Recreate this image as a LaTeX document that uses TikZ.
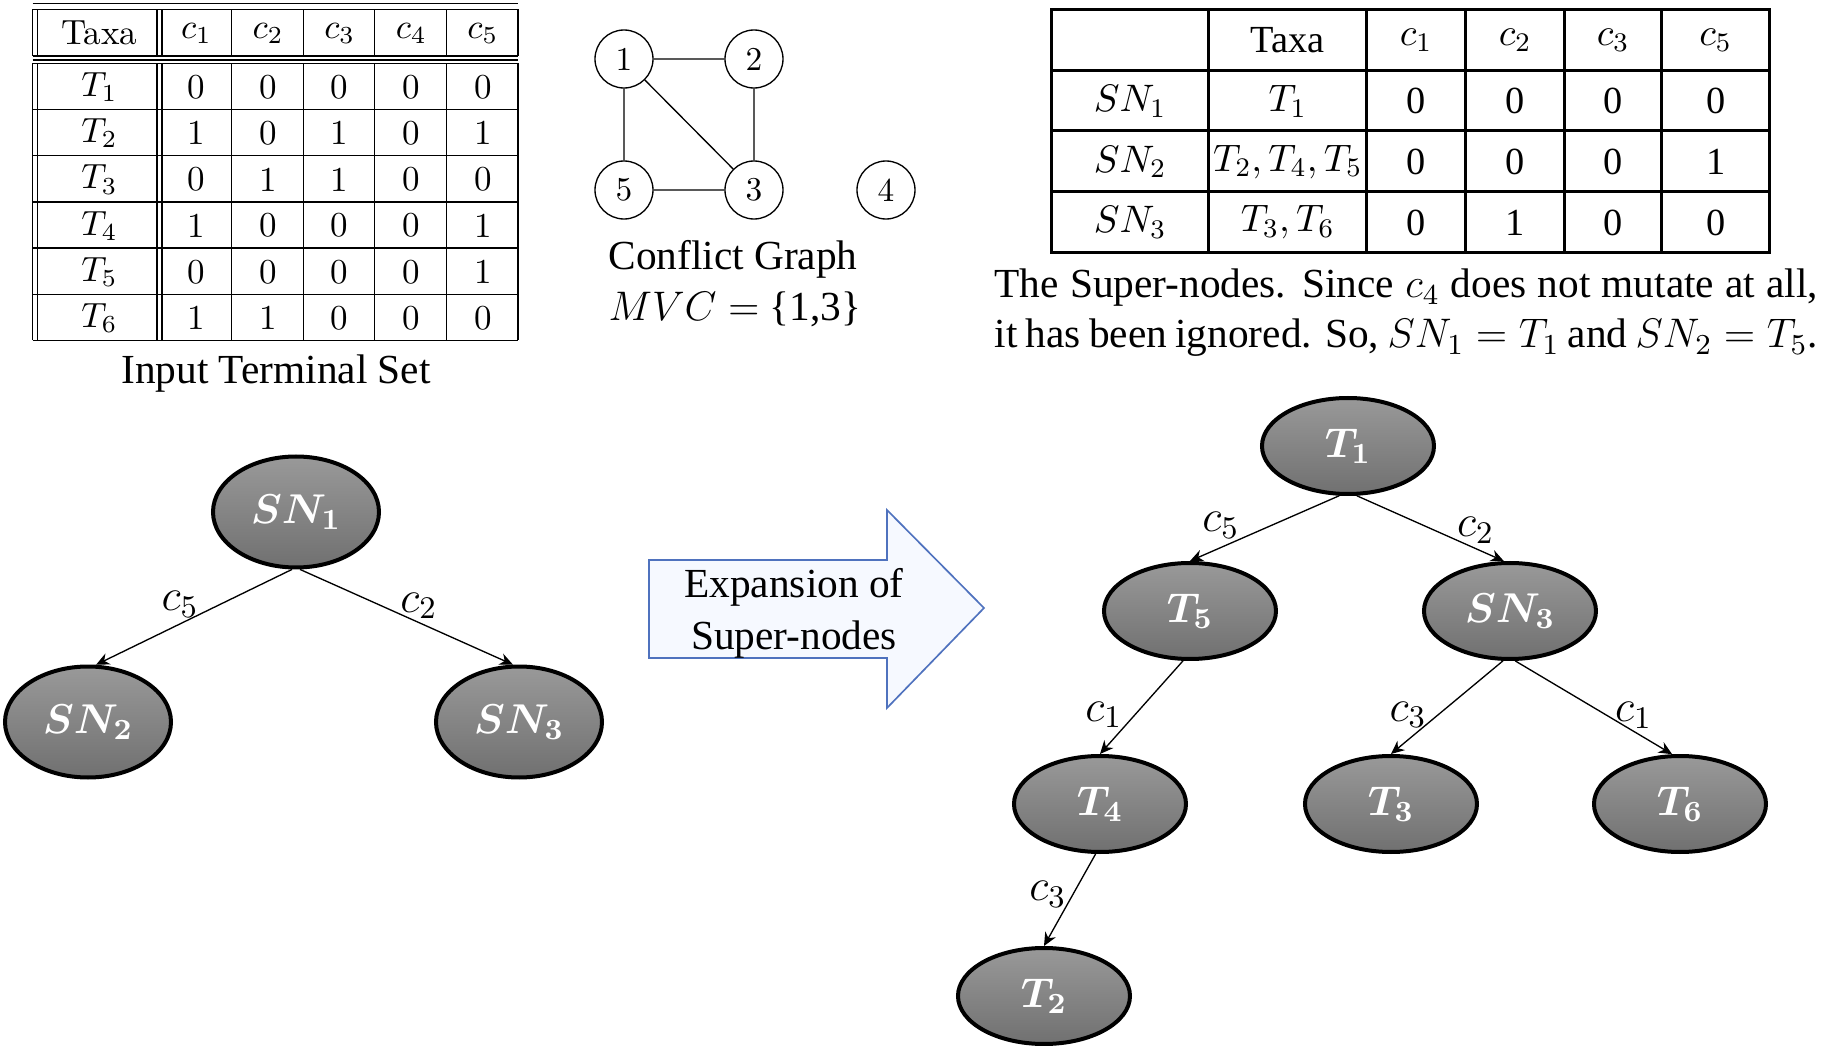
\RequirePackage{fix-cm}
\documentclass[tikz,border=0pt]{standalone}
\usepackage{fontspec}
\newfontfamily\tnr{Liberation Serif}
\usetikzlibrary{matrix,shapes.geometric,arrows.meta}

\definecolor{arrowblue}{RGB}{79,114,190}
\definecolor{arrowfill}{RGB}{246,249,255}

\begin{document}
\begin{tikzpicture}[x=0.3pt,y=-0.3pt,
    snode/.style={ellipse,draw=black,line width=1.2pt,top color=black!40,bottom color=black!56,
      text=white,inner sep=0pt,minimum width=49.8pt,minimum height=33.3pt,
      font=\fontsize{12.5}{14}\selectfont\boldmath},
    tnode/.style={snode,minimum width=51.6pt,minimum height=28.8pt},
    vnode/.style={circle,draw,thin,inner sep=0pt,minimum size=17.4pt,font=\fontsize{10}{12}\selectfont},
    tedge/.style={-{Stealth[length=4pt,width=3.6pt]},thin},
    elbl/.style={inner sep=0pt,font=\fontsize{13.5}{15}\selectfont},
    captext/.style={font=\tnr\fontsize{12.4}{15.6}\selectfont}]
  \useasboundingbox (0,0) rectangle (1847,1046);

    % input terminal set
    \foreach \y in {3.3,9.3,56,60,63.3,109.5,155.7,201.9,248.1,294.3,340.5}
      \draw[thin] (32.6,\y) -- (518,\y);
    \foreach \x in {32.7,37.5,157,162,231.6,303.2,374.8,446.4,518} {
      \draw[thin] (\x,9.3) -- (\x,56);
      \draw[thin] (\x,63.3) -- (\x,340.5);
    }
    \matrix (tset) [matrix of nodes,anchor=north west,inner sep=0pt,
        nodes={anchor=center,inner sep=0pt,text width=21.48pt,align=center,
          minimum height=13.86pt,font=\fontsize{10.5}{12}\selectfont},
        column 1/.style={nodes={text width=36.75pt}},
        row 1/.style={nodes={minimum height=14pt}}]
      at (37.5,9.3) {
        Taxa & $c_1$ & $c_2$ & $c_3$ & $c_4$ & $c_5$ \\[2.2pt]
        $T_1$ & 0 & 0 & 0 & 0 & 0 \\
        $T_2$ & 1 & 0 & 1 & 0 & 1 \\
        $T_3$ & 0 & 1 & 1 & 0 & 0 \\
        $T_4$ & 1 & 0 & 0 & 0 & 1 \\
        $T_5$ & 0 & 0 & 0 & 0 & 1 \\
        $T_6$ & 1 & 1 & 0 & 0 & 0 \\
      };
    \node[captext] (tsetcap) at (276,374) {Input Terminal Set};

    % conflict graph
    \node[vnode] (v1) at (624,59) {1};
    \node[vnode] (v2) at (754,59) {2};
    \node[vnode] (v5) at (624,190) {5};
    \node[vnode] (v3) at (754,190) {3};
    \node[vnode] (v4) at (886,190) {4};
    \draw[thin] (v1) -- (v2) (v1) -- (v5) (v1) -- (v3) (v2) -- (v3) (v5) -- (v3);
    \node[captext] (cgcap) at (733,259) {Conflict Graph};
    \node[captext] (mvc) at (735,309) {$MVC =$ \{1,3\}};

    % super-nodes
    \draw[line width=0.9pt] (1051,9.5) rectangle (1769,252.5);
    \foreach \x in {1208,1366,1465,1564,1661}
      \draw[line width=0.9pt] (\x,9.5) -- (\x,252.5);
    \foreach \y in {70.25,131,191.75}
      \draw[line width=0.9pt] (1051,\y) -- (1769,\y);
    \matrix (snt) [matrix of nodes,anchor=north west,inner sep=0pt,
        nodes={anchor=center,inner sep=0pt,align=center,minimum height=18.2pt,
          font=\tnr\fontsize{11.5}{13}\selectfont},
        column 1/.style={nodes={text width=47.1pt}},
        column 2/.style={nodes={text width=47.4pt}},
        column 3/.style={nodes={text width=29.7pt}},
        column 4/.style={nodes={text width=29.7pt}},
        column 5/.style={nodes={text width=29.1pt}},
        column 6/.style={nodes={text width=32.4pt}}]
      at (1051,9.5) {
        & Taxa & $c_1$ & $c_2$ & $c_3$ & $c_5$ \\
        $SN_1$ & $T_1$ & 0 & 0 & 0 & 0 \\
        $SN_2$ & $T_2,T_4,T_5$ & 0 & 0 & 0 & 1 \\
        $SN_3$ & $T_3,T_6$ & 0 & 1 & 0 & 0 \\
      };
    \node[captext,inner sep=0pt,anchor=base west] (note1) at (994,298)
      {\makebox[247pt][s]{The Super-nodes. Since $c_4$ does not mutate at all,}};
    \node[captext,inner sep=0pt,anchor=base west] (note2) at (994,348)
      {\makebox[247pt][s]{it has been ignored. So, $SN_1 = T_1$ and $SN_2 = T_5$.}};

    % tree of super-nodes
    \node[snode] (sn1) at (296,512) {$SN_1$};
    \node[snode] (sn2) at (88,722) {$SN_2$};
    \node[snode] (sn3) at (519,722) {$SN_3$};
    \draw[tedge] (sn1.-94) -- node[elbl,pos=.53,shift={(-8,-16)}] {$c_5$} (sn2.82);
    \draw[tedge] (sn1.-86) -- node[elbl,pos=.53,shift={(6,-14)}] {$c_2$} (sn3.96);

    \filldraw[draw=arrowblue,fill=arrowfill,line width=0.5pt]
      (649,560) -- (887,560) -- (887,510) -- (984,608) -- (887,708) -- (887,658) -- (649,658) -- cycle;
    \node[captext,align=center] (expand) at (794,613) {Expansion of\\Super-nodes};

    % expanded tree
    \node[tnode] (t1) at (1348,446) {$T_1$};
    \node[tnode] (t5) at (1190,611) {$T_5$};
    \node[tnode] (sn3r) at (1510,611) {$SN_3$};
    \node[tnode] (t4) at (1100,804) {$T_4$};
    \node[tnode] (t3) at (1391,804) {$T_3$};
    \node[tnode] (t6) at (1680,804) {$T_6$};
    \node[tnode] (t2) at (1044,996) {$T_2$};
    \draw[tedge] (t1.-100) -- node[elbl,pos=.74,shift={(-8,-19)}] {$c_5$} (t5.north);
    \draw[tedge] (t1.-80) -- node[elbl,pos=.76,shift={(7,-15)}] {$c_2$} (sn3r.97);
    \draw[tedge] (t5.-98) -- node[elbl,pos=.75,shift={(-17,-16)}] {$c_1$} (t4.north);
    \draw[tedge] (sn3r.-98) -- node[elbl,pos=.74,shift={(-12,-15)}] {$c_3$} (t3.north);
    \draw[tedge] (sn3r.-84) -- node[elbl,pos=.71,shift={(7,-12)}] {$c_1$} (t6.99);
    \draw[tedge] (t4.-95) -- node[elbl,pos=.56,shift={(-19,-11)}] {$c_3$} (t2.north);
\end{tikzpicture}
\end{document}
